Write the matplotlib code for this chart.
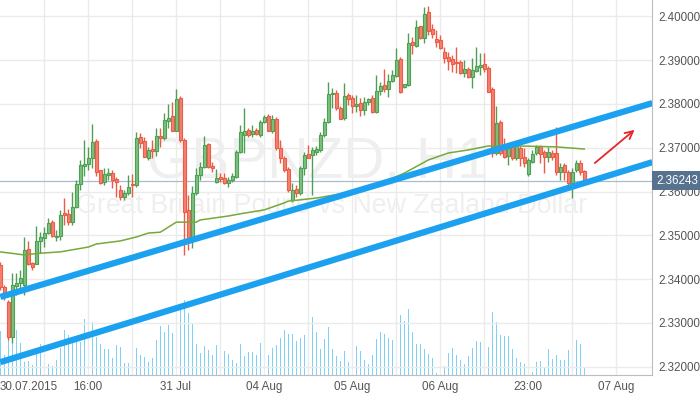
import numpy as np
import matplotlib
matplotlib.use('Agg')
from matplotlib import pyplot as plt

# GBPNZD H1 candles (30.07.2015 -> 06.08.2015)
opens = [2.3432, 2.3382, 2.3347, 2.3267, 2.3384, 2.3391, 2.3386, 2.3469, 2.3437, 2.3434,
         2.3487, 2.3494, 2.3505, 2.3530, 2.3496, 2.3498, 2.3551, 2.3549, 2.3530, 2.3564,
         2.3617, 2.3658, 2.3663, 2.3677, 2.3715, 2.3649, 2.3622, 2.3638, 2.3642, 2.3629,
         2.3603, 2.3587, 2.3596, 2.3617, 2.3615, 2.3724, 2.3715, 2.3677, 2.3697, 2.3693,
         2.3727, 2.3722, 2.3761, 2.3772, 2.3738, 2.3814, 2.3718, 2.3558, 2.3489, 2.3596,
         2.3638, 2.3656, 2.3709, 2.3658, 2.3622, 2.3633, 2.3631, 2.3619, 2.3626, 2.3633,
         2.3690, 2.3729, 2.3740, 2.3731, 2.3740, 2.3729, 2.3759, 2.3772, 2.3738, 2.3766,
         2.3699, 2.3677, 2.3651, 2.3581, 2.3605, 2.3596, 2.3654, 2.3686, 2.3683, 2.3690,
         2.3695, 2.3729, 2.3759, 2.3823, 2.3825, 2.3791, 2.3768, 2.3821, 2.3814, 2.3795,
         2.3802, 2.3786, 2.3805, 2.3814, 2.3782, 2.3830, 2.3843, 2.3834, 2.3852, 2.3864,
         2.3903, 2.3839, 2.3843, 2.3942, 2.3933, 2.3978, 2.3951, 2.4010, 2.3971, 2.3949,
         2.3946, 2.3919, 2.3908, 2.3903, 2.3896, 2.3896, 2.3871, 2.3880, 2.3862, 2.3875,
         2.3885, 2.3891, 2.3882, 2.3834, 2.3688, 2.3759, 2.3699, 2.3681, 2.3704, 2.3677,
         2.3699, 2.3679, 2.3640, 2.3667, 2.3688, 2.3704, 2.3690, 2.3679, 2.3688, 2.3688,
         2.3645, 2.3661, 2.3645, 2.3619, 2.3649, 2.3665, 2.3647]
highs = [2.3439, 2.3386, 2.3352, 2.3414, 2.3414, 2.3421, 2.3496, 2.3487, 2.3439, 2.3521,
         2.3507, 2.3519, 2.3540, 2.3535, 2.3512, 2.3558, 2.3585, 2.3560, 2.3599, 2.3626,
         2.3672, 2.3718, 2.3702, 2.3754, 2.3720, 2.3649, 2.3654, 2.3654, 2.3649, 2.3633,
         2.3615, 2.3603, 2.3638, 2.3640, 2.3736, 2.3734, 2.3724, 2.3702, 2.3718, 2.3745,
         2.3745, 2.3779, 2.3800, 2.3805, 2.3834, 2.3818, 2.3722, 2.3592, 2.3613, 2.3654,
         2.3667, 2.3727, 2.3711, 2.3667, 2.3651, 2.3642, 2.3642, 2.3633, 2.3642, 2.3695,
         2.3752, 2.3791, 2.3745, 2.3752, 2.3745, 2.3763, 2.3775, 2.3777, 2.3775, 2.3770,
         2.3718, 2.3681, 2.3656, 2.3619, 2.3615, 2.3658, 2.3690, 2.3706, 2.3702, 2.3704,
         2.3736, 2.3768, 2.3850, 2.3837, 2.3832, 2.3795, 2.3848, 2.3825, 2.3821, 2.3821,
         2.3814, 2.3816, 2.3814, 2.3821, 2.3866, 2.3850, 2.3880, 2.3868, 2.3878, 2.3928,
         2.3908, 2.3846, 2.3962, 2.3953, 2.3992, 2.3978, 2.4022, 2.4024, 2.3983, 2.3969,
         2.3958, 2.3930, 2.3919, 2.3912, 2.3930, 2.3901, 2.3901, 2.3885, 2.3905, 2.3930,
         2.3916, 2.3916, 2.3887, 2.3839, 2.3795, 2.3763, 2.3722, 2.3706, 2.3709, 2.3711,
         2.3704, 2.3699, 2.3677, 2.3695, 2.3706, 2.3706, 2.3695, 2.3702, 2.3695, 2.3747,
         2.3665, 2.3665, 2.3649, 2.3654, 2.3672, 2.3672, 2.3649]
lows = [2.3375, 2.3352, 2.3261, 2.3254, 2.3363, 2.3368, 2.3363, 2.3432, 2.3421, 2.3434,
        2.3459, 2.3473, 2.3503, 2.3496, 2.3487, 2.3489, 2.3523, 2.3523, 2.3523, 2.3562,
        2.3603, 2.3635, 2.3649, 2.3654, 2.3635, 2.3617, 2.3615, 2.3626, 2.3608, 2.3587,
        2.3581, 2.3581, 2.3592, 2.3587, 2.3610, 2.3699, 2.3679, 2.3672, 2.3677, 2.3681,
        2.3702, 2.3718, 2.3745, 2.3738, 2.3738, 2.3713, 2.3455, 2.3466, 2.3471, 2.3592,
        2.3626, 2.3654, 2.3654, 2.3645, 2.3619, 2.3622, 2.3617, 2.3610, 2.3622, 2.3631,
        2.3688, 2.3688, 2.3724, 2.3724, 2.3729, 2.3724, 2.3756, 2.3738, 2.3734, 2.3695,
        2.3665, 2.3645, 2.3599, 2.3576, 2.3587, 2.3592, 2.3638, 2.3677, 2.3592, 2.3683,
        2.3690, 2.3724, 2.3756, 2.3791, 2.3786, 2.3766, 2.3763, 2.3798, 2.3779, 2.3782,
        2.3772, 2.3775, 2.3798, 2.3779, 2.3779, 2.3821, 2.3827, 2.3816, 2.3850, 2.3862,
        2.3825, 2.3837, 2.3841, 2.3914, 2.3930, 2.3949, 2.3939, 2.3958, 2.3951, 2.3930,
        2.3926, 2.3894, 2.3878, 2.3873, 2.3871, 2.3868, 2.3862, 2.3859, 2.3837, 2.3873,
        2.3866, 2.3873, 2.3827, 2.3679, 2.3683, 2.3683, 2.3677, 2.3661, 2.3672, 2.3672,
        2.3658, 2.3656, 2.3635, 2.3665, 2.3683, 2.3665, 2.3642, 2.3667, 2.3672, 2.3638,
        2.3626, 2.3626, 2.3615, 2.3585, 2.3645, 2.3638, 2.3624]
closes = [2.3382, 2.3368, 2.3267, 2.3386, 2.3391, 2.3402, 2.3466, 2.3434, 2.3427, 2.3487,
          2.3496, 2.3505, 2.3528, 2.3498, 2.3498, 2.3546, 2.3546, 2.3530, 2.3564, 2.3617,
          2.3661, 2.3663, 2.3677, 2.3713, 2.3645, 2.3619, 2.3640, 2.3642, 2.3626, 2.3622,
          2.3587, 2.3596, 2.3610, 2.3615, 2.3722, 2.3711, 2.3679, 2.3695, 2.3693, 2.3727,
          2.3722, 2.3763, 2.3768, 2.3738, 2.3811, 2.3718, 2.3553, 2.3489, 2.3596, 2.3638,
          2.3656, 2.3706, 2.3656, 2.3654, 2.3631, 2.3629, 2.3619, 2.3626, 2.3635, 2.3690,
          2.3736, 2.3738, 2.3729, 2.3738, 2.3731, 2.3759, 2.3770, 2.3738, 2.3766, 2.3699,
          2.3677, 2.3649, 2.3603, 2.3603, 2.3596, 2.3654, 2.3683, 2.3677, 2.3695, 2.3697,
          2.3729, 2.3759, 2.3823, 2.3825, 2.3791, 2.3766, 2.3818, 2.3811, 2.3795, 2.3800,
          2.3786, 2.3805, 2.3811, 2.3782, 2.3830, 2.3841, 2.3834, 2.3852, 2.3866, 2.3901,
          2.3827, 2.3846, 2.3939, 2.3935, 2.3976, 2.3951, 2.4006, 2.3967, 2.3960, 2.3942,
          2.3928, 2.3905, 2.3898, 2.3891, 2.3894, 2.3871, 2.3880, 2.3862, 2.3878, 2.3887,
          2.3889, 2.3880, 2.3827, 2.3688, 2.3756, 2.3688, 2.3679, 2.3699, 2.3677, 2.3704,
          2.3677, 2.3665, 2.3672, 2.3686, 2.3702, 2.3686, 2.3679, 2.3690, 2.3679, 2.3645,
          2.3656, 2.3645, 2.3619, 2.3645, 2.3665, 2.3645, 2.36243]
# tick volume
volumes = [440, 200, 380, 330, 450, 320, 130, 140, 100, 220,
           310, 120, 110, 90, 150, 270, 450, 400, 380, 330,
           330, 560, 560, 530, 380, 310, 260, 260, 170, 300,
           280, 120, 120, 270, 270, 200, 180, 130, 170, 350,
           490, 430, 500, 420, 380, 670, 750, 620, 520, 310,
           220, 290, 250, 200, 300, 380, 240, 210, 150, 120,
           310, 190, 230, 230, 200, 320, 150, 200, 270, 300,
           370, 450, 410, 410, 340, 370, 400, 360, 580, 430,
           260, 360, 480, 260, 190, 140, 240, 130, 350, 290,
           240, 150, 110, 200, 360, 430, 410, 370, 350, 420,
           600, 540, 660, 430, 310, 310, 260, 210, 170, 20,
           260, 90, 220, 270, 200, 150, 110, 190, 270, 340,
           330, 290, 280, 630, 530, 400, 390, 390, 260, 170,
           130, 110, 210, 30, 130, 140, 70, 260, 160, 200,
           150, 150, 250, 410, 350, 310, 80]

# moving average, sampled along the candles
ma_idx = [0, 6, 10, 15, 22, 24, 30, 34, 37, 40, 44, 49, 50, 57, 60, 66, 71, 72,
          79, 88, 96, 101, 107, 112, 117, 122, 130, 139, 146]
ma_val = [2.3462, 2.3455, 2.3459, 2.3462, 2.3473, 2.3480, 2.3487, 2.3496, 2.3505,
          2.3507, 2.3530, 2.3530, 2.3535, 2.3544, 2.3549, 2.3558, 2.3574, 2.3578,
          2.3585, 2.3599, 2.3622, 2.3642, 2.3672, 2.3688, 2.3695, 2.3704, 2.3704,
          2.3702, 2.3697]

# drawn channel (candle index, price)
upper_x = [0, 163]
upper_y = [2.3359, 2.3802]
lower_x = [0, 163]
lower_y = [2.3210, 2.3667]
arrow_from = (148.1, 2.3661)
arrow_to = (159.1, 2.3745)

last_price = 2.36243
price_ticks = [2.32, 2.33, 2.34, 2.35, 2.36, 2.37, 2.38, 2.39, 2.40]
x_labels = ['30.07.2015', '16:00', '31 Jul', '04 Aug', '05 Aug', '06 Aug', '23:00', '07 Aug']
x_label_pos = [-0.075, 21.925, 43.925, 65.925, 87.925, 109.925, 131.925, 153.925]


plt.rcParams['font.family'] = ['Liberation Sans', 'DejaVu Sans']
fig = plt.figure(figsize=(7.0, 3.94), dpi=100)
rect = [0.0, 19.0/394, 652.0/700, 375.0/394]
xmin, xmax = -0.075, 162.925

# volume underneath
axv = fig.add_axes(rect)
x = np.arange(len(closes))
axv.bar(x, volumes, width=0.3, color='#7fd1f7', lw=0)
axv.set_xlim(xmin, xmax)
axv.set_ylim(0, 3750)
axv.axis('off')

ax = fig.add_axes(rect)
ax.patch.set_visible(False)
ax.set_xlim(xmin, xmax)
ax.set_ylim(2.31806, 2.40377)

# grid
for p in price_ticks:
	ax.axhline(p, color='#ebebeb', lw=1, zorder=0)
for gx in np.arange(10.925, xmax, 11):
	ax.axvline(gx, color='#ebebeb', lw=1, zorder=0)

# watermark
ax.text(0.488, 0.525, 'GBPNZD, H1', transform=ax.transAxes, fontsize=41,
	color='#efefef', ha='center', va='baseline', zorder=1)
ax.text(0.508, 0.432, 'Great Britain Pound vs New Zealand Dollar', transform=ax.transAxes,
	fontsize=19.3, color='#efefef', ha='center', va='baseline', zorder=1)

ax.axhline(last_price, color='#a9bccf', lw=0.9, zorder=2)

# candles
o = np.array(opens)
c = np.array(closes)
up = c >= o
face = np.where(up, '#79c27c', '#f7806e')
edge = np.where(up, '#4e9f53', '#ec5b47')
ax.vlines(x, lows, highs, colors=edge, lw=1, zorder=3)
ax.bar(x, np.maximum(np.abs(c - o), 0.00008), bottom=np.minimum(o, c), width=0.75,
	color=face, edgecolor=edge, lw=0.8, zorder=4)

ax.plot(ma_idx, ma_val, color='#76a83a', lw=1.1, zorder=5)

ax.plot(upper_x, upper_y, color='#1ba1ef', lw=4.5, solid_capstyle='butt', zorder=6)
ax.plot(lower_x, lower_y, color='#1ba1ef', lw=4.5, solid_capstyle='butt', zorder=6)
ax.annotate('', xy=arrow_to, xytext=arrow_from,
	arrowprops=dict(arrowstyle='->', color='#e8242c', lw=1.3, mutation_scale=14), zorder=7)

# axes
ax.yaxis.tick_right()
ax.set_yticks(price_ticks)
ax.set_yticklabels(['%.5f' % p for p in price_ticks])
ax.set_xticks(x_label_pos)
ax.set_xticklabels(x_labels)
ax.get_xticklabels()[0].set_ha('left')
ax.tick_params(axis='both', length=0, labelsize=8.4, labelcolor='#555555')
ax.tick_params(axis='y', pad=4.3)
ax.tick_params(axis='x', pad=4)
for s in ['left', 'top']:
	ax.spines[s].set_visible(False)
for s in ['right', 'bottom']:
	ax.spines[s].set_color('#bdbdbd')

ax.text(1.006, last_price, '%.5f' % last_price, transform=ax.get_yaxis_transform(),
	fontsize=8.4, color='white', ha='left', va='center', clip_on=False,
	bbox=dict(boxstyle='square,pad=0.3', fc='#56728f', ec='none'))

fig.savefig('out.png', dpi=100)
